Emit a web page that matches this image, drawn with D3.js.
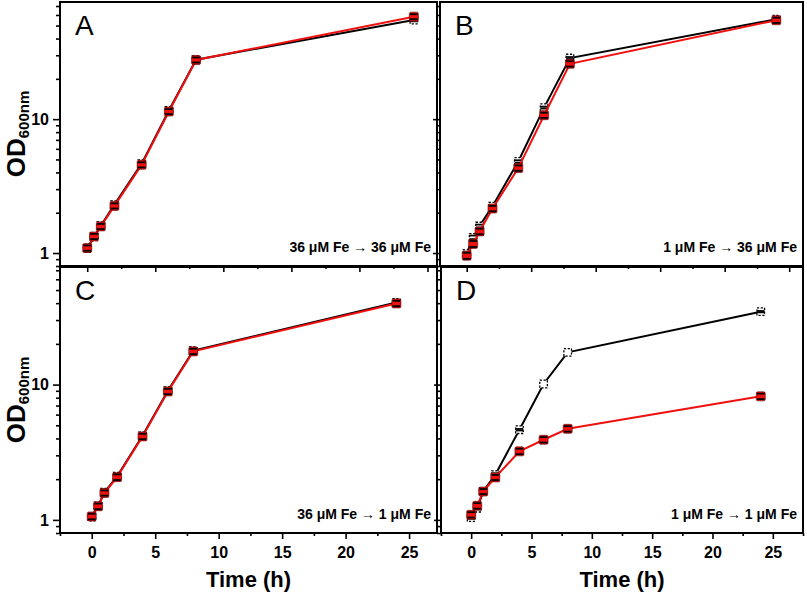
<!DOCTYPE html>
<html>
<head>
<meta charset="utf-8">
<script src="https://cdn.jsdelivr.net/npm/d3@7"></script>
<style>
  html, body { margin: 0; padding: 0; background: #fff; }
  svg { display: block; }
  text { font-family: Arial, "Liberation Sans", sans-serif; }
</style>
</head>
<body>
<svg id="chart" width="807" height="594"></svg>
<script>
// ---------- data ----------
const times = [0, 0.5, 1, 2, 4, 6, 8, 24];

const panelLetters = ["A", "B", "C", "D"];
const conditions = [
  "36 \u03bcM Fe \u2192 36 \u03bcM Fe",
  "1 \u03bcM Fe \u2192 36 \u03bcM Fe",
  "36 \u03bcM Fe \u2192 1 \u03bcM Fe",
  "1 \u03bcM Fe \u2192 1 \u03bcM Fe"
];

const blackA = [1.08, 1.32, 1.60, 2.30, 4.65, 11.6, 27.8, 55.0];
const redA   = [1.09, 1.33, 1.58, 2.25, 4.56, 11.4, 27.7, 58.3];
const blackB = [0.99, 1.31, 1.59, 2.24, 4.83, 12.2, 28.6, 55.7];
const redB   = [0.955, 1.17, 1.45, 2.15, 4.31, 10.7, 25.9, 54.8];
const blackC = [1.05, 1.27, 1.60, 2.10, 4.18, 9.0, 17.8, 40.5];
const redC   = [1.06, 1.26, 1.58, 2.07, 4.14, 8.9, 17.6, 39.8];
const blackD = [1.04, 1.22, 1.62, 2.16, 4.64, 10.1, 17.3, 34.6];
const redD   = [1.09, 1.27, 1.62, 2.06, 3.21, 3.91, 4.71, 8.19];

const blackErrA = [0.03, 0.03, 0.03, 0.05, 0.10, 0.25, 0.6, 1.2];
const redErrA   = [0.05, 0.06, 0.07, 0.10, 0.20, 0.50, 1.2, 2.5];
const blackErrB = [0.02, 0.04, 0.04, 0.05, 0.10, 0.20, 0.5, 1.0];
const redErrB   = [0.05, 0.06, 0.07, 0.10, 0.20, 0.48, 1.2, 2.5];
const blackErrC = [0.03, 0.03, 0.03, 0.05, 0.10, 0.20, 0.4, 1.0];
const redErrC   = [0.05, 0.06, 0.07, 0.10, 0.19, 0.40, 0.8, 1.8];
const blackErrD = [0.02, 0.02, 0.03, 0.05, 0.06, 0, 0, 0.4];
const redErrD   = [0.05, 0.06, 0.07, 0.09, 0.15, 0.18, 0.22, 0.38];

const xMajorTicks = [0, 5, 10, 15, 20, 25];
const xMinorTicks = [-2.5, 2.5, 7.5, 12.5, 17.5, 22.5, 27.5];
const yMajorTicks = [1, 10];
const yTickLabels = ["1", "10"];

// ---------- layout ----------
const panels = [
  { black: blackA, red: redA, bErr: blackErrA, rErr: redErrA, x0: 60,  x1: 437, y0: 2,   y1: 266, xd: [-2.0, 25.7],  yd: [0.8, 75], yLabels: true,  xLabels: false },
  { black: blackB, red: redB, bErr: blackErrB, rErr: redErrB, x0: 440, x1: 803, y0: 2,   y1: 266, xd: [-2.07, 26.07], yd: [0.8, 75], yLabels: false, xLabels: false },
  { black: blackC, red: redC, bErr: blackErrC, rErr: redErrC, x0: 60,  x1: 437, y0: 267, y1: 533, xd: [-2.5, 27.2],  yd: [0.8, 74], yLabels: true,  xLabels: true },
  { black: blackD, red: redD, bErr: blackErrD, rErr: redErrD, x0: 441, x1: 803, y0: 267, y1: 533, xd: [-2.5, 27.5],  yd: [0.8, 74], yLabels: false, xLabels: true }
];

const RED = "#f01010";
const svg = d3.select("#chart");

panels.forEach((p, i) => {
  const x = d3.scaleLinear().domain(p.xd).range([p.x0, p.x1]);
  const y = d3.scaleLog().domain(p.yd).range([p.y1, p.y0]);
  const g = svg.append("g");

  const yMinor = y.ticks().filter(v => yMajorTicks.indexOf(v) < 0);
  const ayMinor = g.append("g").attr("transform", `translate(${p.x0},0)`)
    .call(d3.axisLeft(y).tickValues(yMinor).tickSize(4).tickFormat(""));
  const ayMajor = g.append("g").attr("transform", `translate(${p.x0},0)`)
    .call(d3.axisLeft(y).tickValues(yMajorTicks).tickSize(7).tickPadding(4)
      .tickFormat((d, k) => p.yLabels ? yTickLabels[k] : ""));
  const axMinor = g.append("g").attr("transform", `translate(0,${p.y1})`)
    .call(d3.axisBottom(x).tickValues(xMinorTicks.filter(v => v >= p.xd[0] && v <= p.xd[1])).tickSize(3).tickFormat(""));
  const axMajor = g.append("g").attr("transform", `translate(0,${p.y1})`)
    .call(d3.axisBottom(x).tickValues(xMajorTicks).tickSize(6).tickPadding(8)
      .tickFormat(d => p.xLabels ? d : ""));

  [ayMinor, ayMajor, axMinor, axMajor].forEach(a => {
    a.select(".domain").remove();
    a.selectAll(".tick line").attr("stroke", "#000").attr("stroke-width", 1.6);
    a.selectAll(".tick text").attr("fill", "#000").style("font-size", "16px").style("font-weight", "bold");
  });

  g.append("rect").attr("x", p.x0).attr("y", p.y0)
    .attr("width", p.x1 - p.x0).attr("height", p.y1 - p.y0)
    .attr("fill", "none").attr("stroke", "#000").attr("stroke-width", 2);

  const line = d3.line().x((d, k) => x(times[k])).y(d => y(d));

  function drawSeries(vals, errs, isRed) {
    const col = isRed ? RED : "#000";
    g.append("path").datum(vals).attr("d", line)
      .attr("fill", "none").attr("stroke", col).attr("stroke-width", 2);
    const pts = g.append("g");
    vals.forEach((v, k) => {
      const cx = x(times[k]), cy = y(v);
      const has = errs[k] > 0;
      const ylo = has ? y(v - errs[k]) : cy, yhi = has ? y(v + errs[k]) : cy;
      if (has) {
        pts.append("line").attr("x1", cx).attr("x2", cx).attr("y1", ylo).attr("y2", yhi)
          .attr("stroke", "#000").attr("stroke-width", 1.4);
      }
      if (isRed) {
        pts.append("rect").attr("x", cx - 4.5).attr("y", cy - 4.5)
          .attr("width", 9).attr("height", 9).attr("rx", 1.5)
          .attr("fill", RED).attr("stroke", "#5a0000").attr("stroke-width", 0.6);
      } else {
        pts.append("rect").attr("x", cx - 3.8).attr("y", cy - 3.8)
          .attr("width", 7.6).attr("height", 7.6)
          .attr("fill", "#fff").attr("stroke", "#000").attr("stroke-width", 1.3)
          .attr("stroke-dasharray", "2.2,1.6");
      }
      if (has) {
        [ylo, yhi].forEach(yy => {
          pts.append("line").attr("x1", cx - 3.8).attr("x2", cx + 3.8).attr("y1", yy).attr("y2", yy)
            .attr("stroke", "#000").attr("stroke-width", 1.8);
        });
      }
    });
  }
  drawSeries(p.black, p.bErr, false);
  drawSeries(p.red, p.rErr, true);

  g.append("text").attr("x", p.x0 + 15).attr("y", p.y0 + 33)
    .style("font-size", "28px").attr("fill", "#000").text(panelLetters[i]);

  g.append("text").attr("x", p.x1 - 6).attr("y", p.y1 - 14)
    .attr("text-anchor", "end").style("font-size", "14px").style("font-weight", "bold")
    .attr("fill", "#000").text(conditions[i]);

  if (p.yLabels) {
    const cy = (p.y0 + p.y1) / 2;
    const t = svg.append("text")
      .attr("transform", `translate(25,${cy}) rotate(-90)`)
      .attr("text-anchor", "middle").style("font-weight", "bold").attr("fill", "#000");
    t.append("tspan").style("font-size", "26px").text("OD");
    t.append("tspan").style("font-size", "15px").attr("dy", 4).text("600nm");
  }
  if (p.xLabels) {
    svg.append("text").attr("x", (p.x0 + p.x1) / 2).attr("y", 587)
      .attr("text-anchor", "middle").style("font-size", "22px").style("font-weight", "bold")
      .attr("fill", "#000").text("Time (h)");
  }
});
</script>
</body>
</html>
